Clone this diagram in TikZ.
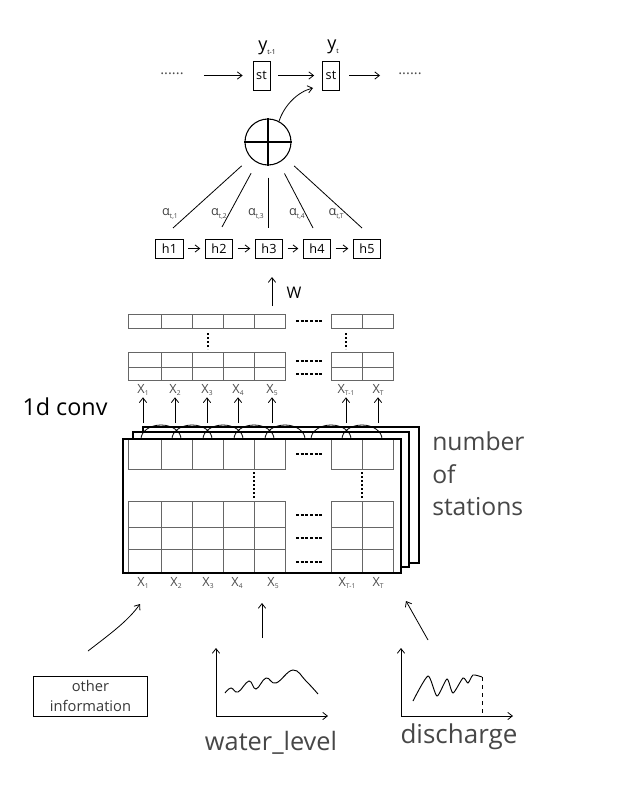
\documentclass[tikz,border=0pt]{standalone}
\usepackage{fontspec}
\setmainfont{Open Sans}
\usetikzlibrary{arrows.meta}
\newcommand\lsub[2]{#1\raisebox{-0.35ex}{\fontsize{5}{5}\selectfont #2}}
\begin{document}
\begin{tikzpicture}[x=0.75pt,y=-0.75pt,
  >={Straight Barb[length=3.5pt,width=5.5pt]},
  every node/.style={inner sep=0pt},
  stbox/.style={draw, line width=0.6pt, minimum width=12.75pt, minimum height=21.75pt, font=\fontsize{9.5}{10}\selectfont},
  hbox/.style={draw, line width=0.6pt, minimum width=20.5pt, minimum height=14.25pt, font=\fontsize{9.5}{10}\selectfont},
  conn/.style={line width=0.6pt},
  arr/.style={->, line width=0.6pt},
  gridline/.style={draw=black!60, line width=0.7pt},
  frame/.style={draw=black, fill=white, line width=1.4pt},
  dashrow/.style={line width=1.1pt, dash pattern=on 2.2pt off 1.3pt},
  vdots/.style={line width=1.3pt, dash pattern=on 1.2pt off 1.8pt},
  xlab/.style={font=\fontsize{9.5}{10}\selectfont, text=black!70},
  alab/.style={font=\fontsize{9.5}{10}\selectfont, text=black!75},
  biglab/.style={font=\fontsize{18.5}{24.4}\selectfont, text=black!72},
  dots/.style={font=\fontsize{11}{12}\selectfont, text=black!70},
]
\useasboundingbox[fill=white] (0,0) rectangle (632,788);

% ---------- top sequence ----------
\node[stbox] (st1) at (261.5,75.5) {st};
\node[stbox] (st2) at (331,75.5) {st};
\node[font=\fontsize{13.5}{14}\selectfont] (y1) at (267,48) {\lsub{y}{t-1}};
\node[font=\fontsize{13.5}{14}\selectfont] (y2) at (333,47) {\lsub{y}{t}};
\node[dots] (dl) at (172,74) {......};
\node[dots] (dr) at (410,74) {......};
\draw[arr] ([xshift=15pt]dl.east |- st1.west) -- ([xshift=-7.5pt]st1.west);
\draw[arr] ([xshift=6pt]st1.east) -- ([xshift=-6pt]st2.west);
\draw[arr] ([xshift=7pt]st2.east) -- ([xshift=-13.5pt]dr.west |- st2.east);

% ---------- attention ----------
\node[draw, circle, line width=0.8pt, minimum size=34.5pt] (plus) at (268,142) {};
\draw[line width=0.8pt] (plus.north) -- (plus.south) (plus.west) -- (plus.east);
\coordinate (sti) at (313,88);
\draw[arr] (plus.62) .. controls (284,106) and (297,92) .. (sti);

\node[hbox] (h1) at (169.5,248.5) {h1};
\node[hbox] (h2) at (219,248.5) {h2};
\node[hbox] (h3) at (269,248.5) {h3};
\node[hbox] (h4) at (317,248.5) {h4};
\node[hbox] (h5) at (367,248.5) {h5};
\foreach \a/\b in {h1/h2,h2/h3,h3/h4,h4/h5}
  \draw[arr, shorten <=3.5pt, shorten >=3.5pt] (\a) -- (\b);

\coordinate (a1) at (173,228);
\coordinate (a2) at (222,227);
\coordinate (a3) at (268,228);
\coordinate (a4) at (313,228);
\coordinate (a5) at (362,228);
\foreach \p in {a1,a2,a3,a4,a5}
  \draw[conn, shorten <=9pt] (plus) -- (\p);

\node[alab] (al1) at (170,214) {\lsub{α}{t,1}};
\node[alab] (al2) at (219,214) {\lsub{α}{t,2}};
\node[alab] (al3) at (256,214) {\lsub{α}{t,3}};
\node[alab] (al4) at (297,214) {\lsub{α}{t,4}};
\node[alab] (al5) at (336,214) {\lsub{α}{t,T}};

\coordinate (wb) at (272,306);
\draw[arr, shorten >=14pt] (wb) -- (wb |- h3.south);
\node[font=\fontsize{12}{13}\selectfont] (wlab) at (294,293) {W};

% ---------- upper feature maps ----------
\draw[gridline] (128,314) rectangle (285,328);
\foreach \x in {161,192,223,254} \draw[gridline] (\x,314) -- (\x,328);
\draw[gridline] (331,314) rectangle (393,328);
\draw[gridline] (362,314) -- (362,328);
\draw[dashrow] (296,321) -- (323,321);
\draw[vdots] (208,333) -- (208,349);
\draw[vdots] (346,333) -- (346,349);

\draw[gridline] (128,352) rectangle (285,380);
\draw[gridline] (128,367) -- (285,367);
\foreach \x in {161,192,223,254} \draw[gridline] (\x,352) -- (\x,380);
\draw[gridline] (331,352) rectangle (393,380);
\draw[gridline] (331,367) -- (393,367);
\draw[gridline] (362,352) -- (362,380);
\draw[dashrow] (296,361) -- (323,361);
\draw[dashrow] (296,374) -- (323,374);

\foreach \i/\x/\t in {1/143/1,2/175/2,3/207/3,4/238/4,5/272/5,6/346/T-1,7/378/T}{
  \node[xlab] (xt\i) at (\x,390) {\lsub{X}{\t}};
  \coordinate (xa\i) at (\x,423);
  \draw[arr, shorten >=1pt] (xa\i) -- (xa\i |- xt\i.south);
}

\node[font=\fontsize{17.5}{20}\selectfont] (conv) at (65,407) {1d conv};

% ---------- stacked input frames ----------
\draw[frame] (143,427) rectangle (419,563);
\draw[frame] (133,432) rectangle (409,567);
\draw[frame] (123,439) rectangle (401,573);

\draw[gridline] (128,439) rectangle (285,469);
\foreach \x in {161,192,223,254} \draw[gridline] (\x,439) -- (\x,469);
\draw[gridline] (331,439) rectangle (393,469);
\draw[gridline] (362,439) -- (362,469);
\draw[dashrow] (296,454) -- (323,454);
\draw[vdots] (254,472) -- (254,499);
\draw[vdots] (362,472) -- (362,499);

\draw[gridline] (128,501) rectangle (285,573);
\draw[gridline] (128,527) -- (285,527) (128,549) -- (285,549);
\foreach \x in {161,192,223,254} \draw[gridline] (\x,501) -- (\x,573);
\draw[gridline] (331,501) rectangle (393,573);
\draw[gridline] (331,527) -- (393,527) (331,549) -- (393,549);
\draw[gridline] (362,501) -- (362,573);
\draw[dashrow] (296,515) -- (323,515);
\draw[dashrow] (296,538) -- (323,538);
\draw[dashrow] (296,562) -- (323,562);

\draw[line width=1.4pt] (123,439) rectangle (401,573);

% arcs of the 1d convolution
\foreach \b in {161,192,223,254,285,331,362}
  \draw[line width=0.6pt] (\b-20,439) .. controls (\b-20,431.3) and (\b-11,425) .. (\b,425)
        .. controls (\b+11,425) and (\b+20,431.3) .. (\b+20,439);

\foreach \i/\x/\t in {1/143/1,2/176/2,3/208/3,4/237/4,5/273/5,6/347/T-1,7/378/T}
  \node[xlab] (xb\i) at (\x,583) {\lsub{X}{\t}};

\node[biglab, anchor=west, align=left] (nst) at (432,474) {number\\of\\stations};

% ---------- inputs ----------
\node[draw, line width=0.7pt, minimum width=86pt, minimum height=30pt, align=center,
      font=\fontsize{11}{15.5}\selectfont, text=black!78] (oi) at (90.5,696) {other\\information};
\coordinate (c1) at (88,651);
\coordinate (c1t) at (140,604);
\draw[arr] (c1) .. controls (110,634) and (128,621) .. (c1t);

\coordinate (wl1) at (262,638);
\coordinate (wl2) at (262,603);
\draw[arr] (wl1) -- (wl2);

\coordinate (dc1) at (428,640);
\coordinate (dc2) at (406,601);
\draw[arr] (dc1) -- (dc2);

% water level chart
\coordinate (wo) at (216,716);
\coordinate (wy) at (216,648);
\coordinate (wx) at (328,716);
\draw[arr] (wo) -- (wy);
\draw[arr] (wo) -- (wx);
\draw[line width=0.7pt] plot[smooth, tension=0.7] coordinates {(225,693) (231,688) (238,692) (249,681) (256,689) (266,678) (276,683) (293,670) (306,681) (318,694)};
\node[biglab, font=\fontsize{19}{20}\selectfont] (wlt) at (271,743) {water\_level};

% discharge chart
\coordinate (do) at (401,716);
\coordinate (dy) at (401,648);
\coordinate (dx) at (513,716);
\draw[arr] (do) -- (dy);
\draw[arr] (do) -- (dx);
\draw[line width=0.7pt] plot[smooth, tension=0.4] coordinates {(413,701) (428,676) (437,696) (447,679) (453,693) (463,678) (468,683) (473,675) (482,677)};
\coordinate (dtop) at (482,677);
\draw[line width=0.6pt, dashed] (dtop) -- (dtop |- do);
\node[biglab, font=\fontsize{19.5}{20}\selectfont] (dct) at (459,737) {discharge};
\end{tikzpicture}
\end{document}
